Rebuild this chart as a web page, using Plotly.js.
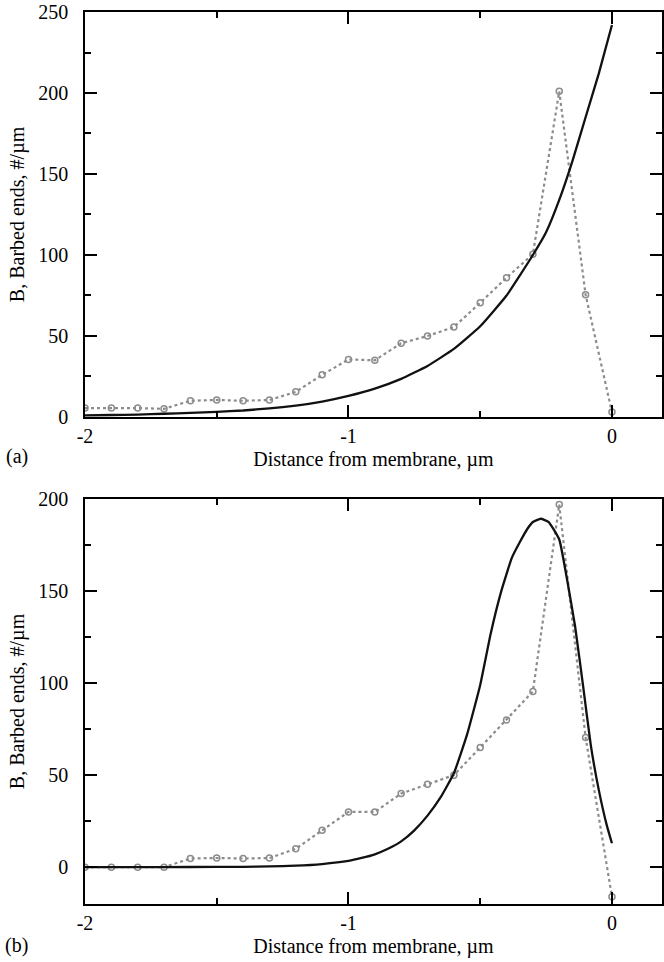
<!DOCTYPE html>
<html>
<head>
<meta charset="utf-8">
<script src="https://cdn.plot.ly/plotly-3.0.1.min.js"></script>
<style>
html,body{margin:0;padding:0;background:#fff;font-family:'Liberation Serif','Times New Roman',serif;}
#chart text{font-family:'Liberation Serif','Times New Roman',serif !important;}
</style>
</head>
<body>
<div id="chart" style="width:664px;height:962px"></div>
<script>
// ---- Data ----
var simX = [-2.0,-1.9,-1.8,-1.7,-1.6,-1.5,-1.4,-1.3,-1.2,-1.1,-1.0,-0.9,-0.8,-0.7,-0.6,-0.5,-0.4,-0.3,-0.2,-0.1,0.0];
var simA = [5.5,5.5,5.5,5,10,10.5,10,10.5,15.5,26,35.5,35,45.5,50,55.5,70.5,86,100.5,201,75.5,3];
var simB = [0,0,0,0,4.7,5,4.7,5,10,20,30,30,40,45,50,65,80,95.5,197,70.5,-16];

var fitAX = [-2.0,-1.9,-1.8,-1.7,-1.6,-1.5,-1.4,-1.3,-1.2,-1.1,-1.0,-0.9,-0.8,-0.7,-0.6,-0.5,-0.4,-0.3,-0.25,-0.2,-0.15,-0.1,-0.05,0.0];
var fitAY = [1,1.2,1.5,2,2.5,3.2,4,5.3,7,9.5,13,17.5,23.5,31.5,42,56,75,100,114,134,158,185,212,242];

var fitBX = [-2.0,-1.8,-1.6,-1.4,-1.3,-1.2,-1.1,-1.0,-0.95,-0.9,-0.85,-0.8,-0.75,-0.7,-0.65,-0.6,-0.55,-0.5,-0.46,-0.42,-0.38,-0.35,-0.32,-0.3,-0.27,-0.24,-0.2,-0.17,-0.14,-0.11,-0.08,-0.05,-0.02,0.0];
var fitBY = [0,0,0.1,0.2,0.4,0.8,1.7,3.4,5,7,10,14,20,28,38,51,72,99,127,150,168,176.5,184,187.5,189.3,187.5,178,156,131,99,66,42,23,13];

var xTicks = [-2,-1,0];
var xTickText = ['-2','-1','0'];
var yTicksA = [0,50,100,150,200,250];
var yTicksB = [0,50,100,150,200];
var xTitle = 'Distance from membrane, \u00b5m';
var yTitle = 'B, Barbed ends, #/\u00b5m';
var panelLabels = ['(a)','(b)'];

// ---- Styles ----
var FONT = 'Times New Roman';
var simLine = {dash:'dot', color:'#8c8c8c', width:2.2};
var simMarker = {symbol:'circle-open', size:6, color:'#8c8c8c', line:{width:1.5, color:'#8c8c8c'}};
var fitLine = {color:'#111111', width:2.3, shape:'spline', smoothing:0.4};

var traces = [
  {x:simX, y:simA, xaxis:'x', yaxis:'y', mode:'lines+markers', line:simLine, marker:simMarker, showlegend:false, hoverinfo:'skip'},
  {x:fitAX, y:fitAY, xaxis:'x', yaxis:'y', mode:'lines', line:fitLine, showlegend:false, hoverinfo:'skip'},
  {x:simX, y:simB, xaxis:'x2', yaxis:'y2', mode:'lines+markers', line:simLine, marker:simMarker, showlegend:false, hoverinfo:'skip'},
  {x:fitBX, y:fitBY, xaxis:'x2', yaxis:'y2', mode:'lines', line:fitLine, showlegend:false, hoverinfo:'skip'}
];

function xAxis(anchor){
  return {
    anchor:anchor, domain:[0,1], range:[-2,0.19], tickmode:'array', tickvals:xTicks, ticktext:xTickText,
    ticks:'inside', ticklen:12, tickwidth:1.5, tickcolor:'#000',
    minor:{tickvals:[-1.5,-0.5], ticks:'inside', ticklen:6, tickwidth:1.5, tickcolor:'#000'},
    showline:true, linecolor:'#000', linewidth:1.5, mirror:'ticks', showgrid:false, zeroline:false,
    tickfont:{family:FONT, size:20, color:'#000'},
    title:{text:xTitle, font:{family:FONT, size:20, color:'#000'}, standoff:6},
    fixedrange:true
  };
}
function yAxis(anchor, domain, range, vals){
  return {
    anchor:anchor, domain:domain, range:range, tickmode:'array', tickvals:vals,
    ticks:'inside', ticklen:12, tickwidth:1.5, tickcolor:'#000',
    minor:{dtick:25, ticks:'inside', ticklen:6, tickwidth:1.5, tickcolor:'#000'},
    showline:true, linecolor:'#000', linewidth:1.5, mirror:'ticks', showgrid:false, zeroline:false,
    tickfont:{family:FONT, size:20, color:'#000'},
    ticklabelstandoff:11,
    title:{text:yTitle, font:{family:FONT, size:20, color:'#000'}, standoff:8},
    fixedrange:true
  };
}

var layout = {
  width:664, height:962,
  margin:{l:85, r:2, t:12, b:58},
  paper_bgcolor:'#fff', plot_bgcolor:'#fff',
  font:{family:FONT, size:20, color:'#000'},
  xaxis:xAxis('y'),
  yaxis:yAxis('x', [0.546,1], [0,250], yTicksA),
  xaxis2:xAxis('y2'),
  yaxis2:yAxis('x2', [0,0.454], [-20,200], yTicksB),
  annotations:[
    {text:panelLabels[0], xref:'paper', yref:'paper', x:-0.118, y:0.502, xanchor:'center', yanchor:'middle', showarrow:false, font:{family:FONT, size:20, color:'#000'}},
    {text:panelLabels[1], xref:'paper', yref:'paper', x:-0.118, y:-0.046, xanchor:'center', yanchor:'middle', showarrow:false, font:{family:FONT, size:20, color:'#000'}}
  ]
};

Plotly.newPlot('chart', traces, layout, {displayModeBar:false});
</script>
</body>
</html>
